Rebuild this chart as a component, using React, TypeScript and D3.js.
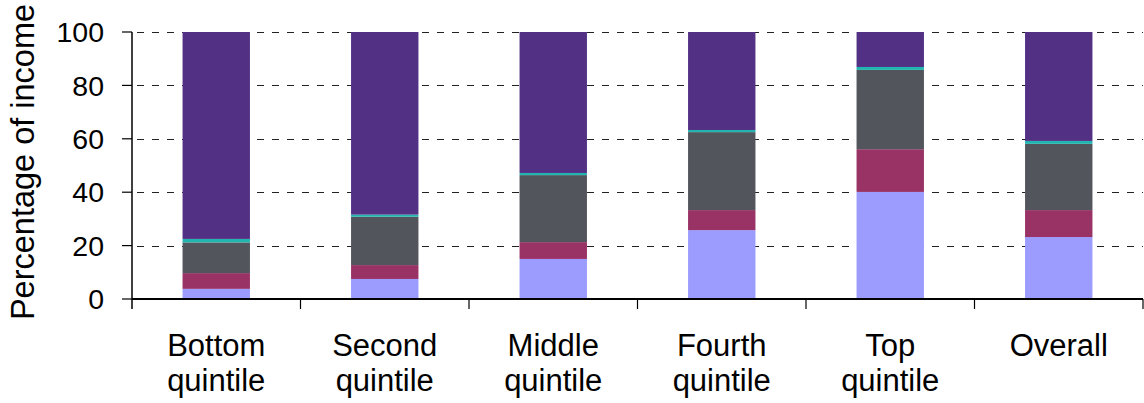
import React from "react";
import * as d3 from "d3";

// Income-source shares by quintile (percent of income), stacked bottom to top
const categories = ["Bottom quintile", "Second quintile", "Middle quintile", "Fourth quintile", "Top quintile", "Overall"];
const seriesA = [3.8, 7.5, 15.0, 25.8, 40.1, 23.2];
const seriesB = [5.9, 5.2, 6.3, 7.5, 16.0, 10.1];
const seriesC = [11.5, 18.1, 25.1, 29.2, 29.7, 24.8];
const seriesD = [1.3, 0.8, 0.8, 0.8, 1.1, 1.1];
const seriesE = [77.5, 68.4, 52.8, 36.7, 13.1, 40.8];
const yTicks = [0, 20, 40, 60, 80, 100];

const seriesColors = ["#9c9cff", "#993366", "#52565c", "#22b5b0", "#523185"];

const W = 1144;
const H = 403;
const left = 132;
const right = 1143;
const top = 32;
const bottom = 299;

export default function App() {
  const x = d3.scaleBand<string>().domain(categories).range([left, right]).padding(0);
  const y = d3.scaleLinear().domain([0, 100]).range([bottom, top]);
  const barW = x.bandwidth() * 0.4;

  const rows = categories.map((c, i) => ({
    cat: c,
    a: seriesA[i],
    b: seriesB[i],
    c: seriesC[i],
    d: seriesD[i],
    e: seriesE[i],
  }));
  const stack = d3.stack<any>().keys(["a", "b", "c", "d", "e"]);
  const layers = stack(rows);

  const font = "'Liberation Sans', Arial, sans-serif";

  return (
    <svg
      width={W}
      height={H}
      viewBox={`0 0 ${W} ${H}`}
      style={{ position: "absolute", left: 0, top: 0, background: "#fff" }}
      fontFamily={font}
    >
      {/* dashed gridlines */}
      {yTicks
        .filter((t) => t > 0)
        .map((t) => (
          <line
            key={"g" + t}
            x1={left}
            x2={right}
            y1={Math.round(y(t)) + 0.5}
            y2={Math.round(y(t)) + 0.5}
            stroke="#222"
            strokeWidth={1.2}
            strokeDasharray="7,8"
            strokeDashoffset={-5}
          />
        ))}

      {/* stacked bars */}
      {layers.map((layer, li) => (
        <g key={"l" + li} fill={seriesColors[li]}>
          {layer.map((s, i) => (
            <rect
              key={i}
              x={(x(categories[i]) as number) + (x.bandwidth() - barW) / 2}
              y={y(s[1])}
              width={barW}
              height={y(s[0]) - y(s[1])}
            />
          ))}
        </g>
      ))}

      {/* y axis */}
      <line x1={left} x2={left} y1={top} y2={bottom + 10} stroke="#000" strokeWidth={1.5} />
      {yTicks.map((t) => (
        <g key={"t" + t}>
          <line x1={left - 10} x2={left} y1={y(t)} y2={y(t)} stroke="#000" strokeWidth={1.2} />
          <text
            x={104}
            y={y(t)}
            dy="0.36em"
            textAnchor="end"
            fontSize={28.5}
            fill="#000"
          >
            {t}
          </text>
        </g>
      ))}
      <text
        transform={`translate(34, 162) rotate(-90)`}
        textAnchor="middle"
        fontSize={32.5}
        fill="#000"
      >
        Percentage of income
      </text>

      {/* x axis */}
      <line x1={left} x2={right} y1={bottom} y2={bottom} stroke="#000" strokeWidth={2} />
      {categories.map((c, i) => (
        <line
          key={"xt" + i}
          x1={(x(c) as number) + x.bandwidth()}
          x2={(x(c) as number) + x.bandwidth()}
          y1={bottom}
          y2={bottom + 10}
          stroke="#000"
          strokeWidth={1.2}
        />
      ))}
      {categories.map((c) => {
        const parts = c.split(" ");
        const cx = (x(c) as number) + x.bandwidth() / 2;
        return (
          <text key={"xl" + c} textAnchor="middle" fontSize={31} fill="#000">
            <tspan x={cx} y={356}>
              {parts[0]}
            </tspan>
            {parts[1] && (
              <tspan x={cx} y={391}>
                {parts[1]}
              </tspan>
            )}
          </text>
        );
      })}
    </svg>
  );
}
